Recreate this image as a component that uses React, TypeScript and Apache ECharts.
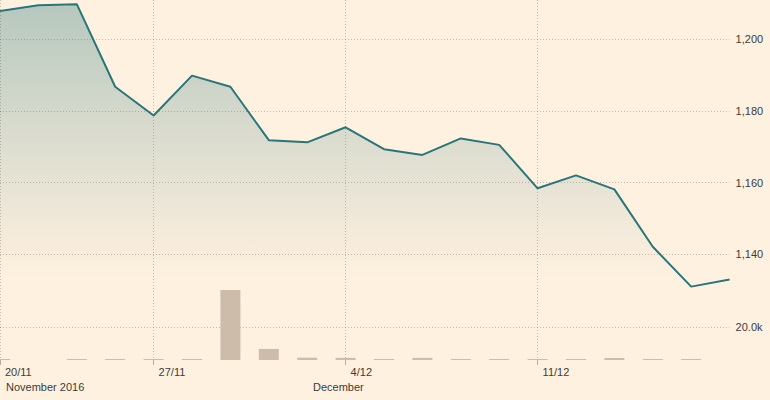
import React, { useEffect, useRef } from 'react';
import * as echarts from 'echarts';

// Trading days shown on the chart
const dates = [
  '22/11', '23/11', '24/11', '25/11',
  '28/11', '29/11', '30/11', '1/12', '2/12',
  '5/12', '6/12', '7/12', '8/12', '9/12',
  '12/12', '13/12', '14/12', '15/12', '16/12',
  '19/12',
];

// Closing prices
const prices = [
  1207.8, 1209.4, 1209.7, 1186.7,
  1178.7, 1189.8, 1186.7, 1171.8, 1171.2,
  1175.4, 1169.3, 1167.7, 1172.3, 1170.5,
  1158.4, 1162.0, 1158.1, 1142.1, 1131.0,
  1133.0,
];

// Volumes
const volumes: (number | null)[] = [
  600, null, 600, 600,
  600, 600, 42400, 6700, 1400,
  1300, 600, 1300, 600, 600,
  600, 600, 1200, 600, 600,
  null,
];

// Week tick labels and the category index they sit on
const tickIndices = [0, 4, 9, 14];
const tickLabels = ['20/11', '27/11', '4/12', '11/12'];

// Month labels under the axis
const monthLabels = ['November 2016', 'December'];

const BG = '#fff1e0';
const LINE = '#28767a';
const GRID = 'rgba(90,70,50,0.32)';
const TEXT = '#3d3b38';
const FONT = '"Liberation Sans", Arial, sans-serif';

export default function App() {
  const ref = useRef<HTMLDivElement>(null);

  useEffect(() => {
    document.body.style.margin = '0';
    if (!ref.current) return;
    const chart = echarts.init(ref.current, undefined, { renderer: 'svg' });
    const isTick = (i: number) => tickIndices.indexOf(i) >= 0;
    const gridLine = { color: GRID, width: 1, type: [1, 2] as any };

    chart.setOption({
      animation: false,
      backgroundColor: BG,
      textStyle: { fontFamily: FONT },
      grid: [
        { left: 0, right: 40.4, top: 0, height: 326.1 },
        { left: 0, right: 40.4, top: 327, height: 33 },
      ],
      xAxis: [
        {
          type: 'category',
          gridIndex: 0,
          data: dates,
          boundaryGap: false,
          axisLine: { show: false },
          axisTick: { show: false },
          axisLabel: { show: false },
          splitLine: { show: true, interval: (i: number) => isTick(i), lineStyle: gridLine },
        },
        {
          type: 'category',
          gridIndex: 1,
          data: dates,
          boundaryGap: false,
          axisLine: { show: false },
          axisTick: {
            show: true,
            length: 5,
            interval: (i: number) => isTick(i),
            lineStyle: { color: '#b9aea2', width: 1 },
          },
          axisLabel: {
            show: true,
            interval: (i: number) => isTick(i),
            formatter: (_v: string, i: number) => tickLabels[tickIndices.indexOf(i)] ?? '',
            align: 'left',
            padding: [0, 0, 0, 5],
            margin: 6,
            color: TEXT,
            fontSize: 11,
            fontFamily: FONT,
          },
          splitLine: { show: true, interval: (i: number) => isTick(i), lineStyle: gridLine },
        },
      ],
      yAxis: [
        {
          type: 'value',
          gridIndex: 0,
          position: 'right',
          min: 1120,
          max: 1210.87,
          interval: 20,
          axisLine: { show: false },
          axisTick: { show: false },
          axisLabel: {
            margin: 6,
            color: TEXT,
            fontSize: 11,
            fontFamily: FONT,
            showMinLabel: false,
            showMaxLabel: false,
            formatter: (v: number) =>
              v === 1120 || Math.abs(v % 20) > 0.001 ? '' : v.toLocaleString('en-US'),
          },
          splitLine: { show: true, showMinLine: false, showMaxLine: false, lineStyle: gridLine },
        },
        {
          type: 'value',
          gridIndex: 1,
          position: 'right',
          min: 0,
          max: 20000,
          interval: 20000,
          axisLine: { show: false },
          axisTick: { show: false },
          axisLabel: {
            margin: 6,
            color: TEXT,
            fontSize: 11,
            fontFamily: FONT,
            formatter: (v: number) => (v === 0 ? '' : (v / 1000).toFixed(1) + 'k'),
          },
          splitLine: { show: true, showMinLine: false, lineStyle: gridLine },
        },
      ],
      series: [
        {
          type: 'line',
          xAxisIndex: 0,
          yAxisIndex: 0,
          data: prices,
          symbol: 'none',
          lineStyle: { color: LINE, width: 2 },
          itemStyle: { color: LINE },
          areaStyle: {
            color: new echarts.graphic.LinearGradient(0, 0, 0, 1, [
              { offset: 0, color: 'rgba(40,118,122,0.48)' },
              { offset: 0.45, color: 'rgba(40,118,122,0.22)' },
              { offset: 0.86, color: 'rgba(40,118,122,0.0)' },
              { offset: 1, color: 'rgba(40,118,122,0)' },
            ]),
          },
          z: 3,
        },
        {
          type: 'bar',
          xAxisIndex: 1,
          yAxisIndex: 1,
          data: volumes,
          barWidth: 20,
          clip: false,
          itemStyle: { color: '#cdbcaa' },
        },
      ],
      graphic: [
        {
          type: 'text',
          x: 6,
          y: 387,
          style: { text: monthLabels[0], fill: TEXT, font: `11px ${FONT}`, verticalAlign: 'middle' },
        },
        {
          type: 'text',
          x: 313,
          y: 387,
          style: { text: monthLabels[1], fill: TEXT, font: `11px ${FONT}`, verticalAlign: 'middle' },
        },
      ],
    });
    return () => chart.dispose();
  }, []);

  return (
    <div
      ref={ref}
      style={{ position: 'fixed', left: 0, top: 0, width: 770, height: 400 }}
    />
  );
}
